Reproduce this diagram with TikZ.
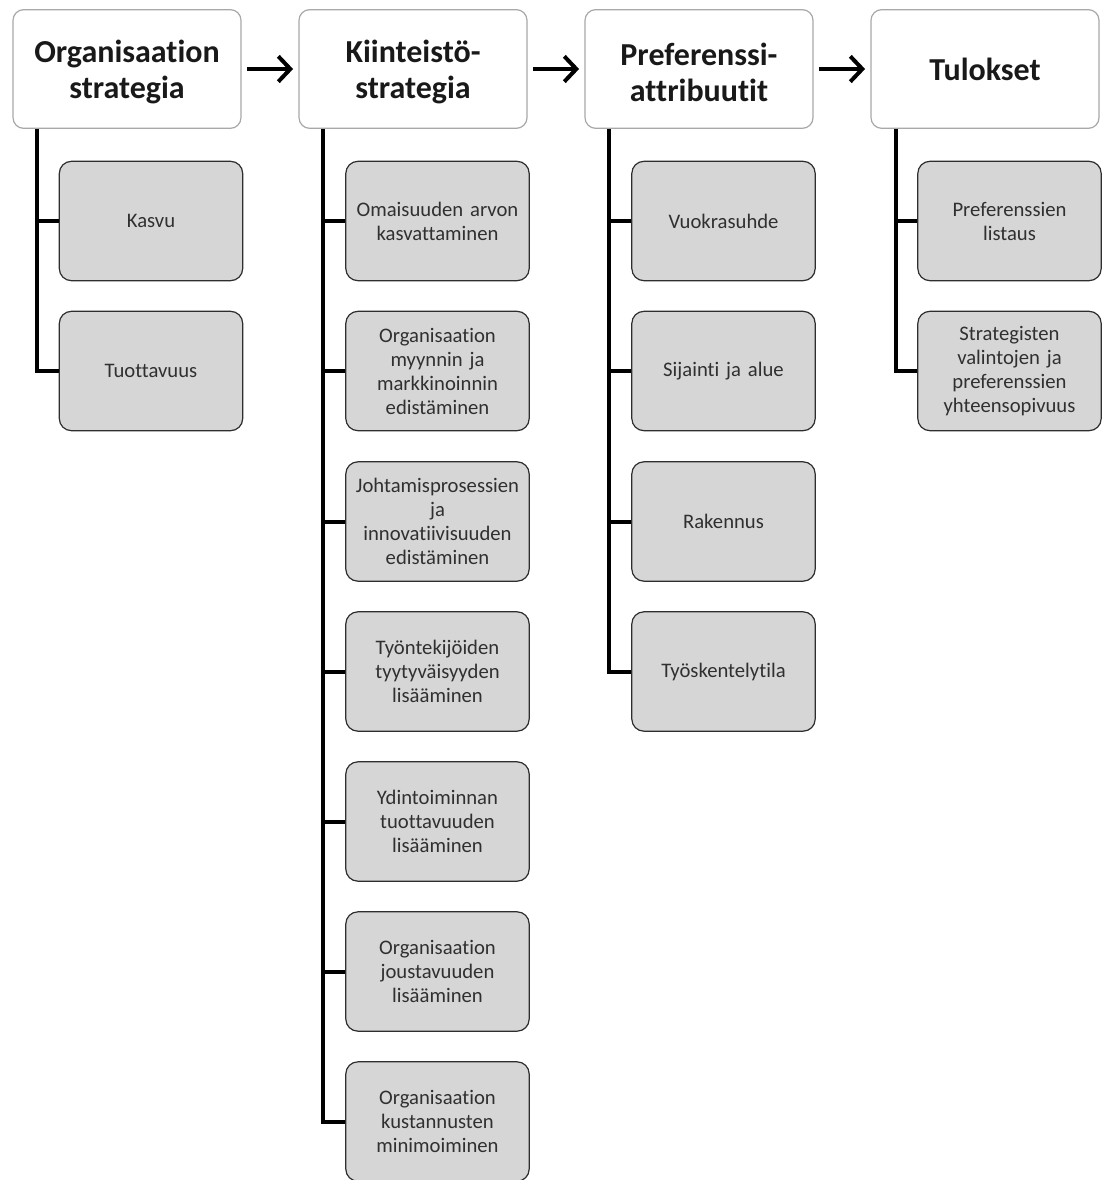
\documentclass[tikz,border=0pt]{standalone}
\usepackage{fontspec}
\setmainfont[Ligatures=NoCommon]{Carlito}
\usetikzlibrary{arrows.meta}
\definecolor{childfill}{HTML}{D6D6D6}
\definecolor{childline}{HTML}{2E2E2E}
\definecolor{headline}{HTML}{A8A8A8}
\definecolor{childtext}{HTML}{303030}
\newcommand\headlines[1]{\raisebox{-2.5pt}[\height][\depth]{\parbox{165pt}{\centering #1}}}
\tikzset{
  head/.style={draw=headline, line width=0.9pt, fill=white, rounded corners=8pt,
    minimum width=171pt, minimum height=89pt, align=center, text width=165pt,
    inner xsep=2pt, font=\fontsize{24}{27}\selectfont\bfseries, text=black!90},
  child/.style={draw=childline, line width=0.9pt, fill=childfill, rounded corners=9pt,
    minimum width=137.5pt, minimum height=89.5pt, align=center, text width=128pt,
    inner xsep=4pt, font=\fontsize{15.5}{18}\selectfont, text=childtext},
  tree/.style={line width=3pt, black},
  flow/.style={line width=3pt, -{Straight Barb[length=9pt,width=19pt,line width=3pt]}}
}
\begin{document}
\begin{tikzpicture}[x=0.75pt,y=-0.75pt]
\useasboundingbox (0,0) rectangle (1101,1180);

% column headers
\node[head] (h1) at (127,69) {\headlines{Organisaation\\strategia}};
\node[head] (h2) at (413,69) {\headlines{Kiinteistö-\\strategia}};
\node[head] (h3) at (699,69) {\headlines{Preferenssi-\\attribuutit}};
\node[head] (h4) at (985,69) {Tulokset};

% arrows between headers
\draw[flow] ([xshift=4pt]h1.east) -- ([xshift=-4pt]h2.west);
\draw[flow] ([xshift=4pt]h2.east) -- ([xshift=-4pt]h3.west);
\draw[flow] ([xshift=4pt]h3.east) -- ([xshift=-4pt]h4.west);

% column 1
\node[child] (a1) at (151,221) {Kasvu};
\node[child] (a2) at (151,371) {Tuottavuus};

% column 2
\node[child] (b1) at (437.5,221) {Omaisuuden arvon\\kasvattaminen};
\node[child] (b2) at (437.5,371) {Organisaation\\myynnin ja\\markkinoinnin\\edistäminen};
\node[child] (b3) at (437.5,521.5) {Johtamisprosessien\\ja\\innovatiivisuuden\\edistäminen};
\node[child] (b4) at (437.5,671.5) {Työntekijöiden\\tyytyväisyyden\\lisääminen};
\node[child] (b5) at (437.5,821.5) {Ydintoiminnan\\tuottavuuden\\lisääminen};
\node[child] (b6) at (437.5,971.5) {Organisaation\\joustavuuden\\lisääminen};
\node[child] (b7) at (437.5,1121.5) {Organisaation\\kustannusten\\minimoiminen};

% column 3
\node[child] (c1) at (723.5,221) {Vuokrasuhde};
\node[child] (c2) at (723.5,371) {Sijainti ja alue};
\node[child] (c3) at (723.5,521.5) {Rakennus};
\node[child] (c4) at (723.5,671.5) {Työskentelytila};

% column 4
\node[child] (d1) at (1009.5,221) {Preferenssien\\listaus};
\node[child] (d2) at (1009.5,371) {Strategisten\\valintojen ja\\preferenssien\\yhteensopivuus};

% tree connectors
\foreach \h/\x/\last/\list in {h1/37/a2/{a1,a2}, h2/323/b7/{b1,b2,b3,b4,b5,b6,b7}, h3/609/c4/{c1,c2,c3,c4}, h4/896/d2/{d1,d2}} {
  \draw[tree] (\x,0 |- \h.south) -- (\x,0 |- \last.west) -- (\last.west);
  \foreach \c in \list {
    \draw[tree] (\x,0 |- \c.west) -- (\c.west);
  }
}
\end{tikzpicture}
\end{document}
